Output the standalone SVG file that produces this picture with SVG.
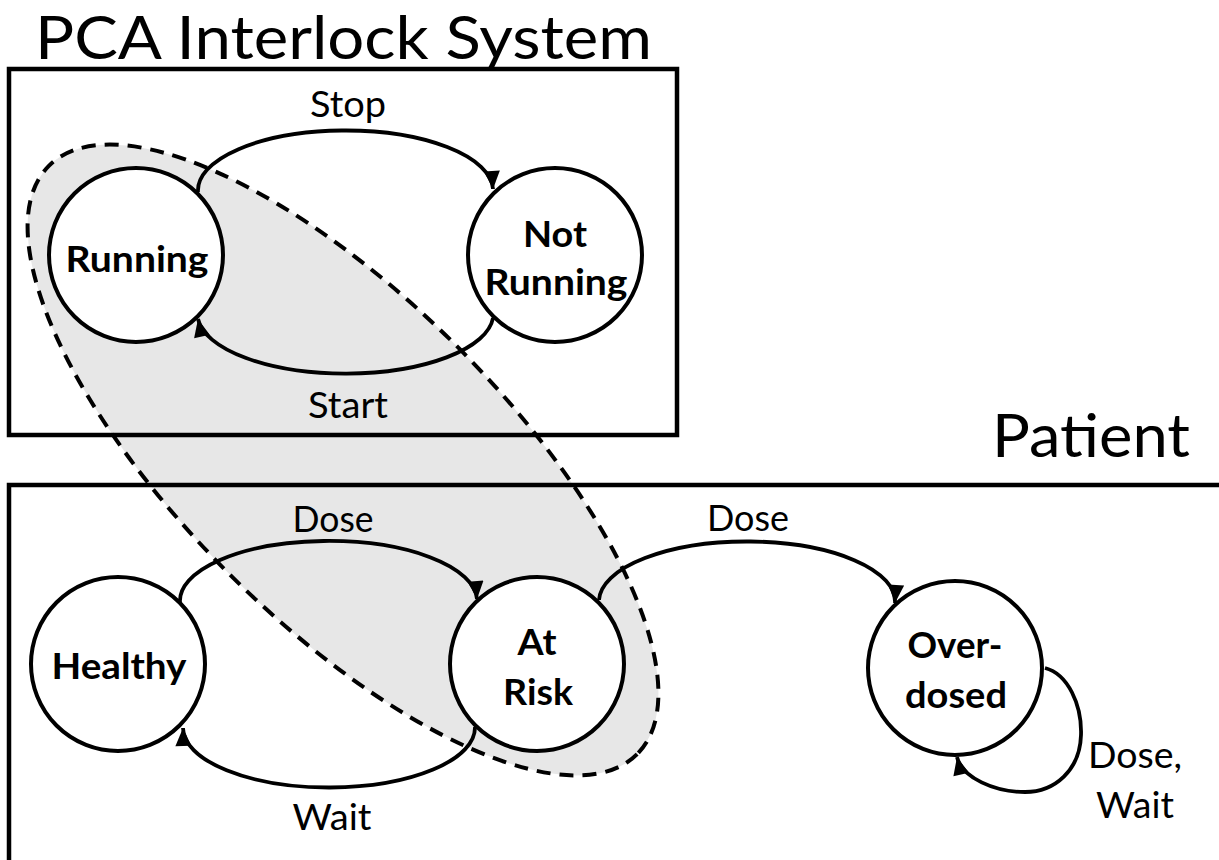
<svg xmlns="http://www.w3.org/2000/svg" width="1219" height="860" viewBox="0 0 1219 860">
  <style>
    .frame { fill: none; stroke: #000; stroke-width: 4.5; }
    .state { fill: #fff; stroke: #000; stroke-width: 4; }
    .edge { fill: none; stroke: #000; stroke-width: 3.8; marker-end: url(#arrow); }
    .title { font-family: Lato, "Open Sans", sans-serif; font-size: 60px; fill: #000; }
    .lbl { font-family: Lato, "Open Sans", sans-serif; font-size: 36px; fill: #000; text-anchor: middle; }
    .name { font-family: Lato, "Open Sans", sans-serif; font-size: 37px; font-weight: bold; fill: #000; text-anchor: middle; }
  </style>
  <defs>
    <marker id="arrow" markerUnits="userSpaceOnUse" markerWidth="19" markerHeight="16" refX="18" refY="8" orient="auto" viewBox="0 0 18 16">
      <path d="M0,0 L18,8 L0,16 z" fill="#000"/>
    </marker>
  </defs>

  <rect width="1219" height="860" fill="#fff"/>

  <!-- shaded region grouping Running and At Risk -->
  <g id="coupling">
    <ellipse cx="343" cy="460" rx="416" ry="161" transform="rotate(45 343 460)" fill="#e7e7e7" stroke="#000" stroke-width="4" stroke-dasharray="14 9"/>
  </g>

  <!-- system frames -->
  <g id="interlock-frame">
    <rect class="frame" x="9" y="69" width="668" height="366"/>
    <text class="title" x="35" y="59" textLength="617" lengthAdjust="spacingAndGlyphs">PCA Interlock System</text>
  </g>
  <g id="patient-frame">
    <path class="frame" d="M9,870 L9,485 L1225,485"/>
    <text class="title" x="992" y="457" textLength="198" lengthAdjust="spacingAndGlyphs">Patient</text>
  </g>

  <!-- transitions -->
  <g id="connectors">
    <path class="edge" d="M198,192 A147.5,60 0 0 1 493,189"/>
    <text class="lbl" x="348" y="117" textLength="76" lengthAdjust="spacingAndGlyphs">Stop</text>

    <path class="edge" d="M493,318 A148,60 0 0 1 198,319"/>
    <text class="lbl" x="348" y="418" textLength="80" lengthAdjust="spacingAndGlyphs">Start</text>

    <path class="edge" d="M180,603 A148.5,60 0 0 1 477,599"/>
    <text class="lbl" x="333" y="532" textLength="81" lengthAdjust="spacingAndGlyphs">Dose</text>

    <path class="edge" d="M475,727 A146,60 0 0 1 183,728"/>
    <text class="lbl" x="332" y="830" textLength="79" lengthAdjust="spacingAndGlyphs">Wait</text>

    <path class="edge" d="M599,600 A148,60 0 0 1 895,603"/>
    <text class="lbl" x="748" y="531" textLength="82" lengthAdjust="spacingAndGlyphs">Dose</text>

    <path class="edge" d="M1045,668 C1068,674 1082,705 1081,735 C1080,770 1055,792 1025,792 C995,792 962,778 957,757"/>
    <text class="lbl" x="1135" y="768" textLength="94" lengthAdjust="spacingAndGlyphs">Dose,</text>
    <text class="lbl" x="1135" y="818" textLength="78" lengthAdjust="spacingAndGlyphs">Wait</text>
  </g>

  <!-- states -->
  <g id="running">
    <circle class="state" cx="136" cy="255" r="87"/>
    <text class="name" x="137" y="272" textLength="143" lengthAdjust="spacingAndGlyphs">Running</text>
  </g>
  <g id="not-running">
    <circle class="state" cx="555" cy="255" r="87"/>
    <text class="name" x="555" y="247" textLength="64" lengthAdjust="spacingAndGlyphs">Not</text>
    <text class="name" x="556" y="295" textLength="143" lengthAdjust="spacingAndGlyphs">Running</text>
  </g>
  <g id="healthy">
    <circle class="state" cx="118" cy="664" r="87"/>
    <text class="name" x="119" y="679" textLength="135" lengthAdjust="spacingAndGlyphs">Healthy</text>
  </g>
  <g id="at-risk">
    <circle class="state" cx="537" cy="664" r="87"/>
    <text class="name" x="537" y="655" textLength="39" lengthAdjust="spacingAndGlyphs">At</text>
    <text class="name" x="538" y="705" textLength="70" lengthAdjust="spacingAndGlyphs">Risk</text>
  </g>
  <g id="overdosed">
    <circle class="state" cx="955" cy="668" r="87"/>
    <text class="name" x="955" y="658" textLength="95" lengthAdjust="spacingAndGlyphs">Over-</text>
    <text class="name" x="956" y="708" textLength="102" lengthAdjust="spacingAndGlyphs">dosed</text>
  </g>
</svg>
